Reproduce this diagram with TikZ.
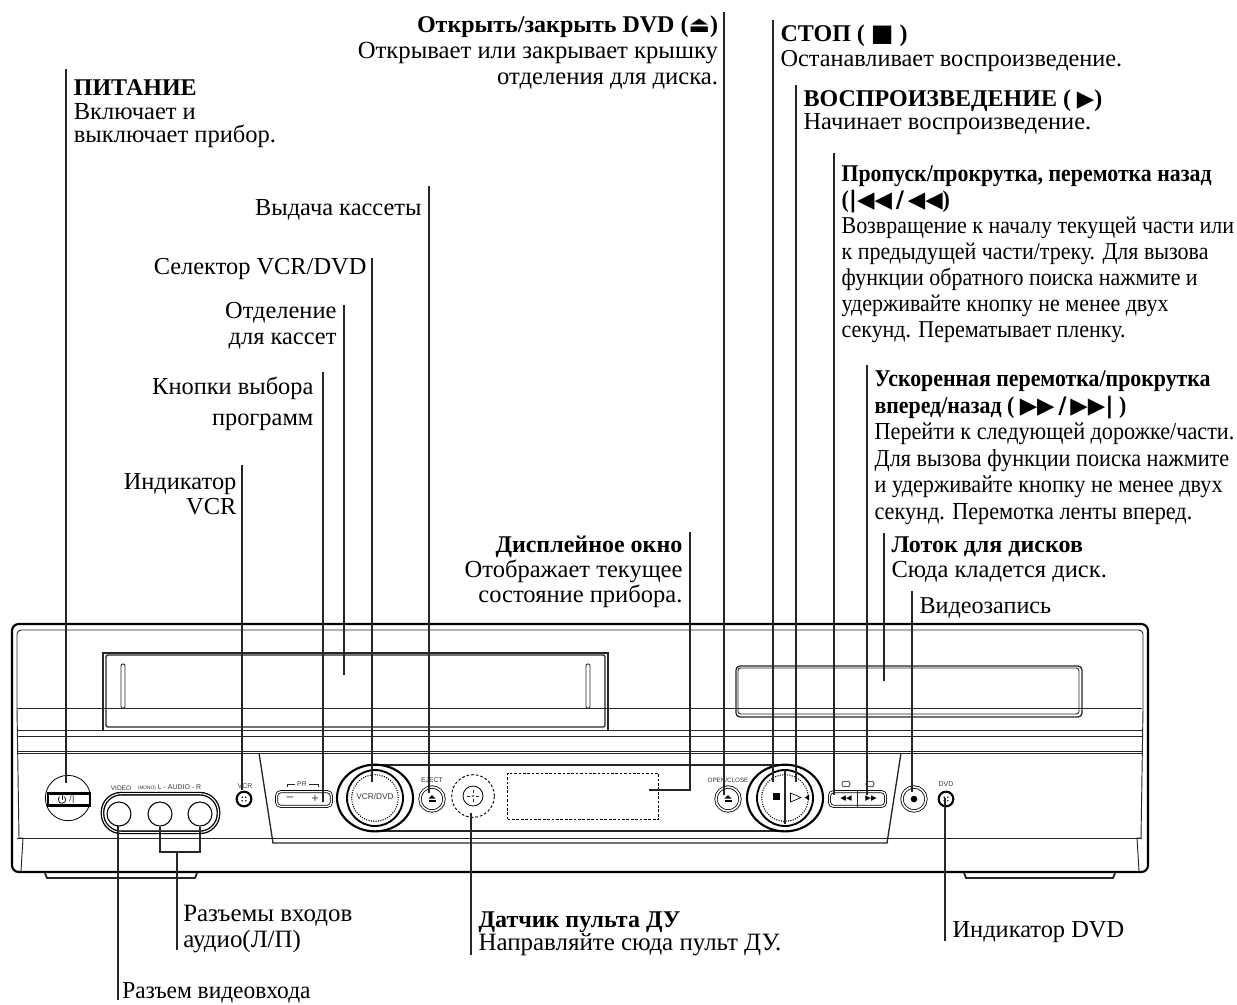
\documentclass[tikz,border=0pt]{standalone}
\usepackage{fontspec}
\usetikzlibrary{shapes.geometric}
\setmainfont{Liberation Serif}
\setsansfont{Liberation Sans}
\newfontfamily\symfont{DejaVu Sans}
\newfontfamily\narrowfont{Liberation Serif}[FakeStretch=0.91]
\newfontfamily\midfont{Liberation Serif}[FakeStretch=0.96]
\newcommand{\capbold}[1]{{\fontsize{18}{18}\selectfont\bfseries #1}}
\newcommand{\capsym}[1]{\smash{{\symfont\fontsize{17}{17}\selectfont #1}}}
\pgfdeclarelayer{background}
\pgfsetlayers{background,main}
\tikzstyle{caption}=[inner xsep=5.5pt,inner ysep=0pt,font=\fontsize{18.3}{18.8}\selectfont]
\tikzstyle{leftcap}=[caption,anchor=north west,align=left]
\tikzstyle{rightcap}=[caption,anchor=north east,align=right]
\tikzstyle{lowcap}=[caption,anchor=south west,align=left]
\tikzstyle{leader} = [draw,line width=1pt,-,black!85]
\tikzstyle{shell} = [draw,line width=1.6pt,rounded corners=5pt]
\tikzstyle{trim} = [draw,line width=0.7pt,black!85]
\tikzstyle{tiny} = [font=\sffamily\fontsize{5.2}{5.2}\selectfont,inner sep=0pt,black!80]
\tikzstyle{roundbtn} = [circle,draw,line width=0.6pt,double,double distance=1.2pt,minimum size=18pt,inner sep=0pt]
\tikzstyle{jack} = [circle,draw,line width=0.8pt,minimum size=18pt,inner sep=0pt]
\tikzstyle{led} = [circle,draw,line width=1.6pt,minimum size=11pt,inner sep=0pt]
\tikzstyle{keybar} = [draw,line width=0.6pt,double,double distance=1pt,rounded corners=3pt,inner sep=0pt]

\begin{document}
\begin{tikzpicture}[x=0.75pt,y=-0.75pt]
    \useasboundingbox (0,0) rectangle (1237,1004);
    % captions
    \node[leftcap,inner xsep=5.7pt,inner ysep=8pt,font=\fontsize{18.4}{17.6}\selectfont] (cappower) at (66,69) {\capbold{ПИТАНИЕ}\\Включает и\\выключает прибор.};
    \node[rightcap,inner xsep=4.3pt,inner ysep=3pt,font=\fontsize{18.5}{19.2}\selectfont] (capopen) at (724,12) {\capbold{Открыть/закрыть DVD (\capsym{⏏})}\\Открывает или закрывает крышку\\отделения для диска.};
    \node[leftcap,inner ysep=3.3pt,font=\fontsize{18.2}{18.8}\selectfont] (capstop) at (773,20) {\capbold{СТОП ( {\symfont ■} )}\\Останавливает воспроизведение.};
    \node[leftcap,inner ysep=3.3pt,font=\fontsize{18.3}{17.3}\selectfont] (capplay) at (796,85) {\capbold{ВОСПРОИЗВЕДЕНИЕ ( \capsym{▶})}\\Начинает воспроизведение.};
    \node[leftcap,inner ysep=9pt,font=\fontsize{18.1}{19.6}\selectfont\narrowfont] (capback) at (834,153) {\capbold{Пропуск/прокрутка, перемотка назад}\\\capbold{(\capsym{|◀◀\,/\,◀◀})}\\Возвращение к началу текущей части или\\к предыдущей части/треку. Для вызова\\функции обратного поиска нажмите и\\удерживайте кнопку не менее двух\\секунд. Перематывает пленку.};
    \node[leftcap,inner ysep=4.2pt,font=\fontsize{18.3}{19.9}\selectfont\narrowfont] (capfwd) at (867,365) {\capbold{Ускоренная перемотка/прокрутка}\\\capbold{вперед/назад ( \capsym{▶▶\,/\,▶▶|} )}\\Перейти к следующей дорожке/части.\\Для вызова функции поиска нажмите\\и удерживайте кнопку не менее двух\\секунд. Перемотка ленты вперед.};
    \node[leftcap,inner ysep=2.5pt,font=\fontsize{18.4}{18.8}\selectfont] (captray) at (884,533) {\capbold{Лоток для дисков}\\Сюда кладется диск.};
    \node[leftcap,inner ysep=4.5pt,font=\fontsize{18.1}{18.8}\selectfont] (caprec) at (912,591) {Видеозапись};
    \node[rightcap,inner ysep=9.7pt] (capeject) at (429,186) {Выдача кассеты};
    \node[rightcap,inner xsep=4pt,inner ysep=0pt] (capselect) at (372,258) {Селектор VCR/DVD};
    \node[rightcap,inner ysep=-2pt,font=\fontsize{18.3}{19.5}\selectfont] (capbay) at (344,305) {Отделение\\для кассет};
    \node[rightcap,inner xsep=7pt,inner ysep=3.2pt,font=\fontsize{18.3}{23.5}\selectfont] (capprog) at (323,372) {Кнопки выбора\\программ};
    \node[rightcap,inner xsep=4pt,inner ysep=6pt] (capvcr) at (242,465) {Индикатор\\VCR};
    \node[rightcap,inner ysep=3pt,font=\fontsize{18.4}{18.8}\selectfont] (capdisp) at (690,532) {\capbold{Дисплейное окно}\\Отображает текущее\\состояние прибора.};
    \node[lowcap,inner xsep=4.5pt,text depth=1.5pt,font=\fontsize{18.7}{19.5}\selectfont] (capaudio) at (177,950) {Разъемы входов\\аудио(Л/П)};
    \node[lowcap,text depth=3pt,font=\fontsize{18.7}{17.5}\selectfont] (capsensor) at (471,955) {\capbold{Датчик пульта ДУ}\\Направляйте сюда пульт ДУ.};
    \node[lowcap,text depth=2.2pt] (capdvd) at (945,941) {Индикатор DVD};
    \node[lowcap,inner xsep=3pt,text depth=1pt,font=\fontsize{18.3}{18.8}\selectfont\midfont] (capvideo) at (118,1000) {Разъем видеовхода};

    % front panel
    \begin{pgfonlayer}{background}
        \path[shell] (12,624) rectangle (1148,872);
        \path[trim,rounded corners=3pt] (17,708) -- (17,630) -- (1143,630) -- (1143,708);
        \path[trim] (17,708) -- (19,838) -- (23,838) -- (21,871);
        \path[trim] (1143,708) -- (1141,838) -- (1137,838) -- (1139,871);
        \foreach \y in {708,730,736,751,753,838}
            \path[trim] (17,\y) -- (1142,\y);
        \path[trim,line width=1pt] (103,730) -- (103,653) -- (608,653) -- (608,730);
        \path[trim,line width=1pt,rounded corners=1pt] (106,655) rectangle (605,727);
        \foreach \x in {121,586}
            \path[trim,rounded corners=1pt] (\x,664) rectangle (\x+4,708);
        \path[trim,line width=1pt,rounded corners=3pt] (736,666) rectangle (1082,717);
        \path[trim,rounded corners=2pt] (738,668) rectangle (1079,714);
        \path[trim,line width=1pt] (259,753) -- (273,843) -- (887,843) -- (901,753);
        \path[trim,line width=1.6pt] (375,765) -- (785,765);
        \path[trim,line width=1.6pt] (375,831) -- (785,831);
        \path[trim,line width=1.4pt] (45,873) -- (47,878) -- (195,878) -- (197,873);
        \path[trim,line width=1.4pt] (964,873) -- (966,878) -- (1113,878) -- (1115,873);
    \end{pgfonlayer}

    % power key
    \node[circle,draw,line width=0.6pt,minimum size=34pt,inner sep=0pt] (power) at (68,798) {};
    \node[draw,line width=1.6pt,minimum width=31pt,minimum height=9pt,inner sep=0pt] (powerkey) at (69,799.5) {};
    \path[trim,line width=0.5pt] (62,795) -- (62,800);
    \draw[line width=0.5pt] (64.4,796.6) arc (-50:230:3.8);
    \node[tiny,font=\sffamily\fontsize{7}{7}\selectfont] (powertext) at (72,799.5) {/|};

    % jacks
    \node[draw,line width=1pt,double,double distance=0.8pt,minimum width=87pt,minimum height=29pt,rounded corners=14pt,inner sep=0pt] (jackbar) at (160.5,813) {};
    \foreach \pos/\name in {{(119,814)/jackvideo}, {(160,814)/jackleft}, {(200,814)/jackright}}
        \node[jack] (\name) at \pos {};
    \node[tiny,font=\sffamily\fontsize{4.9}{4.9}\selectfont] (videotext) at (121,788) {VIDEO};
    \node[tiny] (audiotext) at (169.5,788) {{\fontsize{3.6}{3.6}\selectfont (MONO)} L - AUDIO - R};
    \node[tiny] (vcrtext) at (245,786) {VCR};
    \node[tiny] (dvdtext) at (946,784) {DVD};
    \node[tiny] (ejecttext) at (432,780) {EJECT};
    \node[tiny,font=\sffamily\fontsize{4.7}{4.7}\selectfont] (opentext) at (728,780) {OPEN/CLOSE};
    \node[tiny] (prtext) at (302,784) {PR};
    \path[trim,line width=0.5pt] (287,787) -- (287,784) -- (295,784);
    \path[trim,line width=0.5pt] (309,784) -- (318,784) -- (318,787);

    % indicators
    \foreach \pos/\name in {{(244,799)/ledvcr}, {(946,799)/leddvd}} {
        \node[led] (\name) at \pos {};
        \foreach \a in {45,135,225,315}
            \fill (\name.center) ++(\a:2.5) circle (0.8);
    }

    % keys
    \node[keybar,minimum width=41pt,minimum height=11pt] (prkey) at (304,799) {};
    \node[tiny,font=\sffamily\fontsize{9}{9}\selectfont] (prminus) at (290,799) {--};
    \node[tiny,font=\sffamily\fontsize{9}{9}\selectfont] (prplus) at (315,799) {+};
    \node[keybar,minimum width=42pt,minimum height=11pt] (skipkey) at (857.5,799) {};
    \path[trim,line width=1pt] (skipkey.north) -- (skipkey.south);
    \node[tiny,font=\symfont\fontsize{5.5}{5.5}\selectfont,black] (skipback) at (846,799) {◀◀};
    \node[tiny,font=\symfont\fontsize{5.5}{5.5}\selectfont,black] (skipfwd) at (871,799) {▶▶};
    \foreach \pos/\name in {{(846,784)/iconback}, {(870,784)/iconfwd}}
        \node[draw,line width=0.4pt,rounded corners=1.5pt,minimum width=6pt,minimum height=4pt,inner sep=0pt] (\name) at \pos {};
    \foreach \pos/\name in {{(432,799)/ejectkey}, {(728,799)/openkey}, {(914,799)/reckey}}
        \node[roundbtn] (\name) at \pos {};
    \foreach \x in {432,728} {
        \fill (\x-3.5,798.5) -- (\x,795) -- (\x+3.5,798.5) -- cycle;
        \fill (\x-3.5,800) rectangle (\x+3.5,802);
    }
    \fill (reckey.center) circle (3.3);

    % remote sensor
    \node[circle,draw,line width=0.7pt,dash pattern=on 2pt off 1.5pt,minimum size=32pt,inner sep=0pt] (sensor) at (473,796) {};
    \node[circle,draw,line width=0.6pt,minimum size=15pt,inner sep=0pt] (sensoreye) at (473,796) {};
    \foreach \a in {0,90,180,270}
        \path[trim,line width=0.6pt] (sensoreye.center) ++(\a:3) -- ++(\a:3);
    \fill (sensoreye.center) circle (0.8);

    % display window
    \node[draw,line width=0.7pt,dash pattern=on 2pt off 1.3pt,minimum width=113pt,minimum height=35pt,inner sep=0pt] (display) at (583,796.5) {};

    % dials
    \foreach \pos/\name in {{(375,798)/dialvcr}, {(785,798)/dialdvd}} {
        \node[ellipse,draw,fill=white,line width=1.6pt,minimum width=57pt,minimum height=50pt,inner sep=0pt] (\name) at \pos {};
        \node[circle,draw,line width=1.4pt,minimum size=42pt,inner sep=0pt] (\name inner) at \pos {};
        \node[circle,draw,line width=0.8pt,densely dotted,minimum size=35pt,inner sep=0pt] (\name dots) at \pos {};
    }
    \node[tiny,font=\sffamily\fontsize{6.2}{6.2}\selectfont] (dialtext) at (375,797) {VCR/DVD};
    \path[trim,line width=1.6pt] (785,770) -- (785,824);
    \fill (772.5,792.5) rectangle (779.5,799.5);
    \draw[line width=0.5pt] (790.5,793) -- (801,797.5) -- (790.5,802) -- cycle;
    \fill (805,797.5) -- (809,794.5) -- (809,800.5) -- cycle;

    % leader tips
    \coordinate (tippower) at (66,783);
    \coordinate (tipvcr) at (242,790);
    \coordinate (tipprog) at (323,802);
    \coordinate (tipbay) at (344,675);
    \coordinate (tipselect) at (372,782);
    \coordinate (tipeject) at (429,793);
    \coordinate (tipopen) at (724,795);
    \coordinate (tipstop) at (773,782);
    \coordinate (tipplay) at (796,782);
    \coordinate (tipback) at (834,795);
    \coordinate (tipfwd) at (867,795);
    \coordinate (tiptray) at (884,681);
    \coordinate (tiprec) at (912,792);
    \coordinate (tipdvd) at (945,798);
    \coordinate (tipsensor) at (471,813);
    \coordinate (tipvideo) at (118,826);
    \coordinate (tipaudio) at (177,852);
    \coordinate (tipdisp) at (649,790);
    \path[leader] (cappower.north west) -- (tippower);
    \path[leader] (capvcr.north east) -- (tipvcr);
    \path[leader] (capprog.north east) -- (tipprog);
    \path[leader] (capbay.north east) -- (tipbay);
    \path[leader] (capselect.north east) -- (tipselect);
    \path[leader] (capeject.north east) -- (tipeject);
    \path[leader] (capopen.north east) -- (tipopen);
    \path[leader] (capstop.north west) -- (tipstop);
    \path[leader] (capplay.north west) -- (tipplay);
    \path[leader] (capback.north west) -- (tipback);
    \path[leader] (capfwd.north west) -- (tipfwd);
    \path[leader] (captray.north west) -- (tiptray);
    \path[leader] (caprec.north west) -- (tiprec);
    \path[leader] (capdvd.south west) -- (tipdvd);
    \path[leader] (capsensor.south west) -- (tipsensor);
    \path[leader] (capvideo.south west) -- (tipvideo);
    \path[leader] (capaudio.south west) -- (tipaudio);
    \path[leader] (capdisp.north east) |- (tipdisp);
    \path[leader] (jackleft.south) |- (tipaudio) -| (jackright.south);
\end{tikzpicture}
\end{document}
